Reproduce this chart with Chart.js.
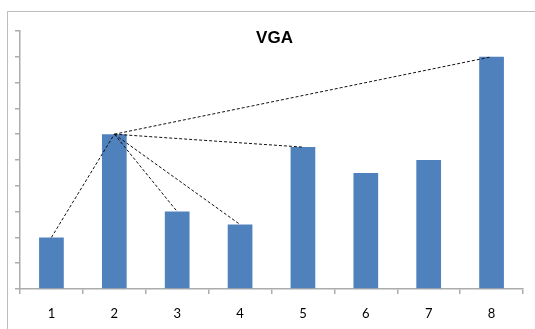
<!DOCTYPE html>
<html>
<head>
<meta charset="utf-8">
<script src="https://cdn.jsdelivr.net/npm/chart.js@4"></script>
<style>
  html, body { margin: 0; padding: 0; background: #fff; overflow: hidden; }
  #wrap { position: relative; width: 535px; height: 329px; overflow: hidden; }
  #frame { position: absolute; left: 7px; top: 11px; width: 600px; height: 400px;
           border-left: 1px solid #bdbdbd; border-top: 1px solid #bdbdbd; }
  #title { position: absolute; left: 0; width: 549px; top: 29px; text-align: center;
           font: bold 17px "Liberation Sans", Arial, sans-serif; line-height: 17px; color: #000; }
  canvas { position: absolute; left: 0; top: 0; }
</style>
</head>
<body>
<div id="wrap">
  <div id="frame"></div>
  <canvas id="c" width="535" height="329"></canvas>
  <div id="title">VGA</div>
</div>
<script>
// Categories and bar heights
const categories = ['1', '2', '3', '4', '5', '6', '7', '8'];
const values = [2, 6, 3, 2.5, 5.5, 4.5, 5, 9];
// Visibility links between bar tops (from category, to category)
const linkFrom = ['2', '2', '2', '2', '2'];
const linkTo = ['1', '3', '4', '5', '8'];
const yMax = 10;
const yStep = 1;

const axisGray = '#acacac';

const linkSets = linkFrom.map((from, k) => {
  const a = categories.indexOf(from);
  const b = categories.indexOf(linkTo[k]);
  return {
    type: 'line',
    data: categories.map((_, i) => (i === a || i === b) ? values[i] : null),
    spanGaps: true,
    borderColor: '#111',
    borderWidth: 1,
    borderDash: [3, 2],
    pointRadius: 0,
    fill: false,
    order: 0
  };
});

new Chart(document.getElementById('c'), {
  data: {
    labels: categories,
    datasets: [
      {
        type: 'bar',
        data: values,
        backgroundColor: '#4f81bd',
        borderWidth: 0,
        barPercentage: 0.393,
        categoryPercentage: 1,
        order: 1
      },
      ...linkSets
    ]
  },
  options: {
    responsive: false,
    animation: false,
    layout: { padding: { left: 0, right: 12, top: 31, bottom: 0 } },
    plugins: { legend: { display: false }, tooltip: { enabled: false }, title: { display: false } },
    scales: {
      x: {
        type: 'category',
        offset: true,
        grid: { offset: true, drawOnChartArea: false, tickLength: 5, color: axisGray, lineWidth: 1.5 },
        border: { color: axisGray, width: 1.5 },
        ticks: { color: '#000', padding: 12, font: { family: 'Lato, "Open Sans", sans-serif', size: 13 } },
        afterFit: s => { s.height = 40; }
      },
      y: {
        min: 0,
        max: yMax,
        ticks: { display: false, stepSize: yStep },
        grid: { drawOnChartArea: false, tickLength: 5, color: axisGray, lineWidth: 1.5 },
        border: { color: axisGray, width: 1.5 },
        afterFit: s => { s.width = 20; }
      }
    }
  }
});
</script>
</body>
</html>
